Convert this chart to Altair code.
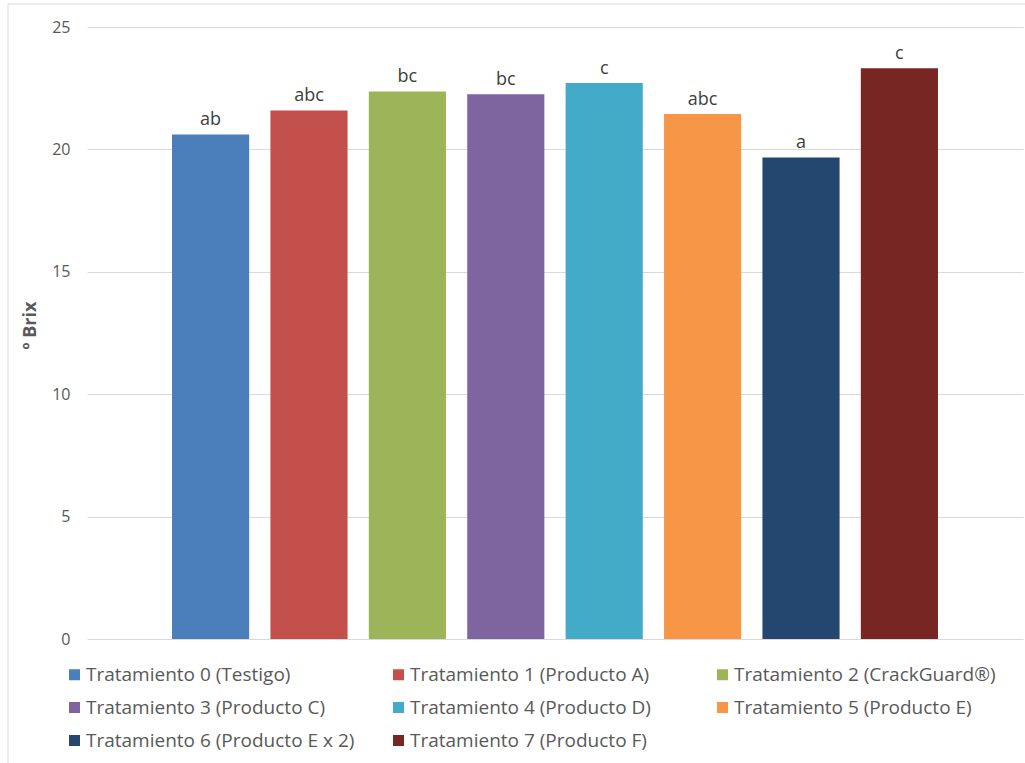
import altair as alt
import pandas as pd

# Treatments, soluble solids (ºBrix) and significance letters
tratamientos = [
    "Tratamiento 0 (Testigo)",
    "Tratamiento 1 (Producto A)",
    "Tratamiento 2 (CrackGuard®)",
    "Tratamiento 3 (Producto C)",
    "Tratamiento 4 (Producto D)",
    "Tratamiento 5 (Producto E)",
    "Tratamiento 6 (Producto E x 2)",
    "Tratamiento 7 (Producto F)",
]
brix = [20.61, 21.59, 22.37, 22.25, 22.71, 21.45, 19.67, 23.31]
letras = ["ab", "abc", "bc", "bc", "c", "abc", "a", "c"]
colores = ["#4A7FBB", "#C4504B", "#9BB558", "#7F65A0", "#43ABC8", "#F79646", "#23476F", "#772624"]
ticks_y = [0, 5, 10, 15, 20, 25]

FONT = "Open Sans"
GRAY = "#595959"

df = pd.DataFrame({"trat": tratamientos, "brix": brix, "letra": letras})

x_enc = alt.X(
    "trat:N",
    sort=tratamientos,
    axis=None,
    scale=alt.Scale(paddingInner=0.216, paddingOuter=0.864),
)
y_enc = alt.Y(
    "brix:Q",
    scale=alt.Scale(domain=[0, 25], nice=False),
    axis=alt.Axis(
        values=ticks_y,
        title="º Brix",
        titleFont=FONT,
        titleFontSize=18,
        titleFontWeight="bold",
        titleColor=GRAY,
        titleAngle=-90,
        titleX=-57,
        titleY=298,
        titleAlign="center",
        titleBaseline="middle",
        labelFont=FONT,
        labelFontSize=16,
        labelColor=GRAY,
        labelPadding=17,
        domain=False,
        ticks=False,
        grid=True,
        gridColor="#D9D9D9",
        gridWidth=1,
    ),
)

bars = alt.Chart(df).mark_bar().encode(
    x=x_enc,
    y=y_enc,
    color=alt.Color(
        "trat:N",
        sort=tratamientos,
        scale=alt.Scale(domain=tratamientos, range=colores),
        legend=alt.Legend(
            title=None,
            orient="none",
            legendX=-22,
            legendY=638,
            direction="horizontal",
            columns=3,
            gridAlign="all",
            columnPadding=34,
            rowPadding=13,
            symbolType="square",
            symbolSize=121,
            symbolStrokeWidth=0,
            symbolOffset=0,
            labelOffset=2,
            labelFont=FONT,
            labelFontSize=19,
            labelColor=GRAY,
            labelLimit=400,
            padding=0,
        ),
    ),
)

labels = alt.Chart(df).mark_text(
    font=FONT, fontSize=18, color="#404040", baseline="alphabetic", dy=-9
).encode(x=x_enc, y=alt.Y("brix:Q"), text="letra:N")

frame = pd.DataFrame({"k": [0]})
left_border = alt.Chart(frame).mark_rule(color="#D9D9D9", strokeWidth=1).encode(
    x=alt.value(-79), y=alt.value(-23), y2=alt.value(740)
)
top_border = alt.Chart(frame).mark_rule(color="#D9D9D9", strokeWidth=1).encode(
    x=alt.value(-79), x2=alt.value(940), y=alt.value(-23)
)

chart = (
    alt.layer(bars, labels, left_border, top_border)
    .properties(
        width=936,
        height=612,
        autosize=alt.AutoSizeParams(type="none"),
        padding={"left": 87, "top": 27, "right": 2, "bottom": 124},
        background="white",
    )
    .configure_view(stroke=None)
)

chart.save("out.html", embed_options={"renderer": "svg", "actions": False})
